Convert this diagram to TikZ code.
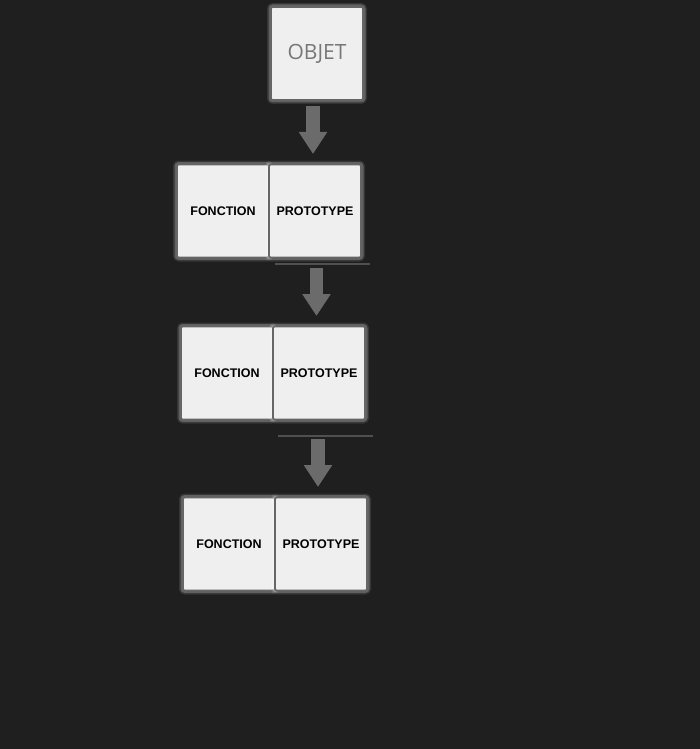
\documentclass[tikz,border=0pt]{standalone}
\usepackage{fontspec}
\setmainfont{Liberation Sans}
\newfontfamily\objetfont{Open Sans}
\usetikzlibrary{arrows.meta, positioning, calc}
\definecolor{bg1}{HTML}{1F1F1F}
\definecolor{boxfill}{HTML}{EFEFEF}
\definecolor{boxline}{HTML}{666666}
\definecolor{arrow1}{HTML}{6B6B6B}
\definecolor{objtext}{HTML}{777777}

\tikzset{
  glow/.style={preaction={draw=white, opacity=0.10, line width=8pt},
               preaction={draw=white, opacity=0.22, line width=5pt}},
  cell/.style={glow, draw=boxline, fill=boxfill, line width=1.6pt, rounded corners=2pt,
               minimum width=92pt, minimum height=93pt, inner sep=0pt, outer sep=0pt,
               font=\fontsize{12.5}{14}\selectfont\bfseries},
  flow/.style={draw=arrow1, line width=13.5pt, -{Triangle[width=27pt, length=22pt]}},
  sepline/.style={draw=arrow1!65!bg1, line width=2pt}
}

\begin{document}
\begin{tikzpicture}[x=1pt, y=-1pt]
  \fill[bg1] (0,0) rectangle (700,749);

  \node[cell, font=\objetfont\fontsize{21}{24}\selectfont, text=objtext] (objet) at (317,53.5) {OBJET};

  \node[cell] (fonc1) at (223,211) {FONCTION};
  \node[cell, right=0pt of fonc1] (proto1) {PROTOTYPE};

  \node[cell] (fonc2) at (227,373) {FONCTION};
  \node[cell, right=0pt of fonc2] (proto2) {PROTOTYPE};

  \node[cell] (fonc3) at (229,544) {FONCTION};
  \node[cell, right=0pt of fonc3] (proto3) {PROTOTYPE};

  \draw[sepline] ([xshift=-40pt, yshift=-6.5pt]proto1.south) -- ++(95,0);
  \draw[sepline] ([xshift=-41pt, yshift=-16pt]proto2.south) -- ++(95,0);

  \draw[flow] ([xshift=-4pt, yshift=-6pt]objet.south) -- ([xshift=-2pt, yshift=10.5pt]proto1.north);
  \draw[flow] ([xshift=1.5pt, yshift=-10.5pt]proto1.south) -- ([xshift=-2.5pt, yshift=10.5pt]proto2.north);
  \draw[flow] ([xshift=-1pt, yshift=-19.5pt]proto2.south) -- ([xshift=-3pt, yshift=10.5pt]proto3.north);
\end{tikzpicture}
\end{document}
